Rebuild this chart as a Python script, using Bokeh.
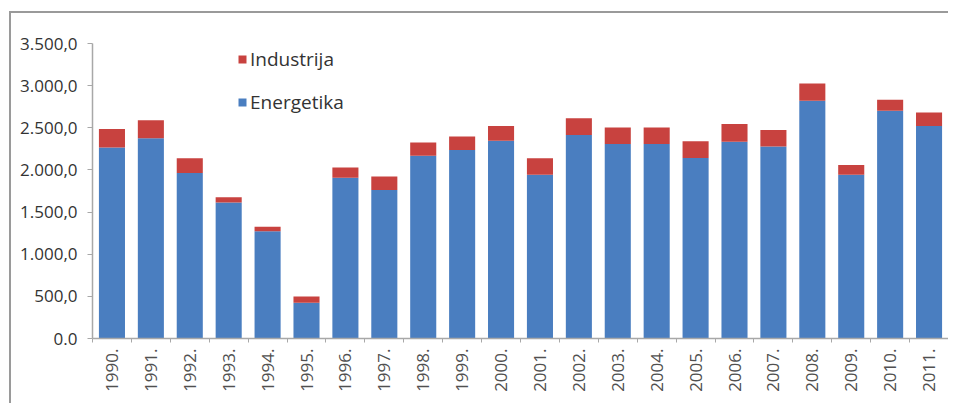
from bokeh.plotting import figure
from bokeh.models import (ColumnDataSource, FixedTicker, Legend, LegendItem, Range1d)
from bokeh.embed import file_html
from bokeh.resources import INLINE

years = ["1990.", "1991.", "1992.", "1993.", "1994.", "1995.", "1996.", "1997.",
         "1998.", "1999.", "2000.", "2001.", "2002.", "2003.", "2004.", "2005.",
         "2006.", "2007.", "2008.", "2009.", "2010.", "2011."]
energetika = [2265, 2375, 1965, 1615, 1272, 423, 1908, 1762, 2169, 2236, 2346,
              1943, 2414, 2307, 2307, 2141, 2334, 2279, 2820, 1943, 2702, 2520]
industrija = [220, 215, 175, 60, 55, 75, 120, 160, 155, 160, 175,
              195, 200, 195, 195, 200, 210, 195, 205, 115, 130, 160]
y_ticks = [0, 500, 1000, 1500, 2000, 2500, 3000, 3500]
y_labels = ["0.0", "500,0", "1.000,0", "1.500,0", "2.000,0", "2.500,0", "3.000,0", "3.500,0"]

BLUE = "#4A7EC0"
RED = "#C8423F"
FONT = "Open Sans"

n = len(years)
xs = [i + 0.5 for i in range(n)]
src = ColumnDataSource(dict(x=xs, Energetika=energetika, Industrija=industrija))

p = figure(width=939, height=392, output_backend="svg", toolbar_location=None,
           x_range=Range1d(0, n), y_range=Range1d(0, 3500),
           min_border_left=81, min_border_right=2, min_border_top=30,
           min_border_bottom=67,
           styles={"border-top": "2px solid #9a9a9a", "border-left": "2px solid #9a9a9a",
                   "margin-left": "9px", "margin-top": "11px"})

rs = p.vbar_stack(["Energetika", "Industrija"], x="x", width=0.67, source=src,
                  color=[BLUE, RED], line_color=None)

p.grid.visible = False
p.outline_line_color = None
p.background_fill_color = "white"
p.border_fill_color = "white"

# x axis
xa = p.xaxis[0]
xa.ticker = FixedTicker(ticks=xs, minor_ticks=list(range(n + 1)))
xa.major_label_overrides = {x: lab for x, lab in zip(xs, years)}
xa.major_label_orientation = 1.5708
xa.major_tick_line_color = None
xa.minor_tick_out = 4
xa.minor_tick_in = 0
xa.minor_tick_line_color = "#a8a8a8"
xa.axis_line_color = "#a8a8a8"
xa.axis_line_width = 1.5
xa.major_label_text_font = FONT
xa.major_label_text_font_size = "17px"
xa.major_label_text_color = "#505050"
xa.major_label_standoff = 4

# y axis
ya = p.yaxis[0]
ya.ticker = FixedTicker(ticks=y_ticks, minor_ticks=[])
ya.major_label_overrides = {t: lab for t, lab in zip(y_ticks, y_labels)}
ya.major_tick_out = 5
ya.major_tick_in = 0
ya.major_tick_line_color = "#a8a8a8"
ya.axis_line_color = "#a8a8a8"
ya.axis_line_width = 1.5
ya.major_label_text_font = FONT
ya.major_label_text_font_size = "17px"
ya.major_label_text_color = "#333333"
ya.major_label_standoff = 10

legend = Legend(items=[LegendItem(label="Industrija", renderers=[rs[1]]),
                       LegendItem(label="Energetika", renderers=[rs[0]])],
                location=(145, 223))
legend.background_fill_alpha = 0
legend.border_line_color = None
legend.label_text_font = FONT
legend.label_text_font_size = "19px"
legend.label_text_color = "#333333"
legend.glyph_width = 10
legend.glyph_height = 10
legend.label_standoff = 3
legend.spacing = 17
legend.padding = 0
legend.margin = 0
p.add_layout(legend)

open("out.html", "w").write(file_html(p, INLINE))
